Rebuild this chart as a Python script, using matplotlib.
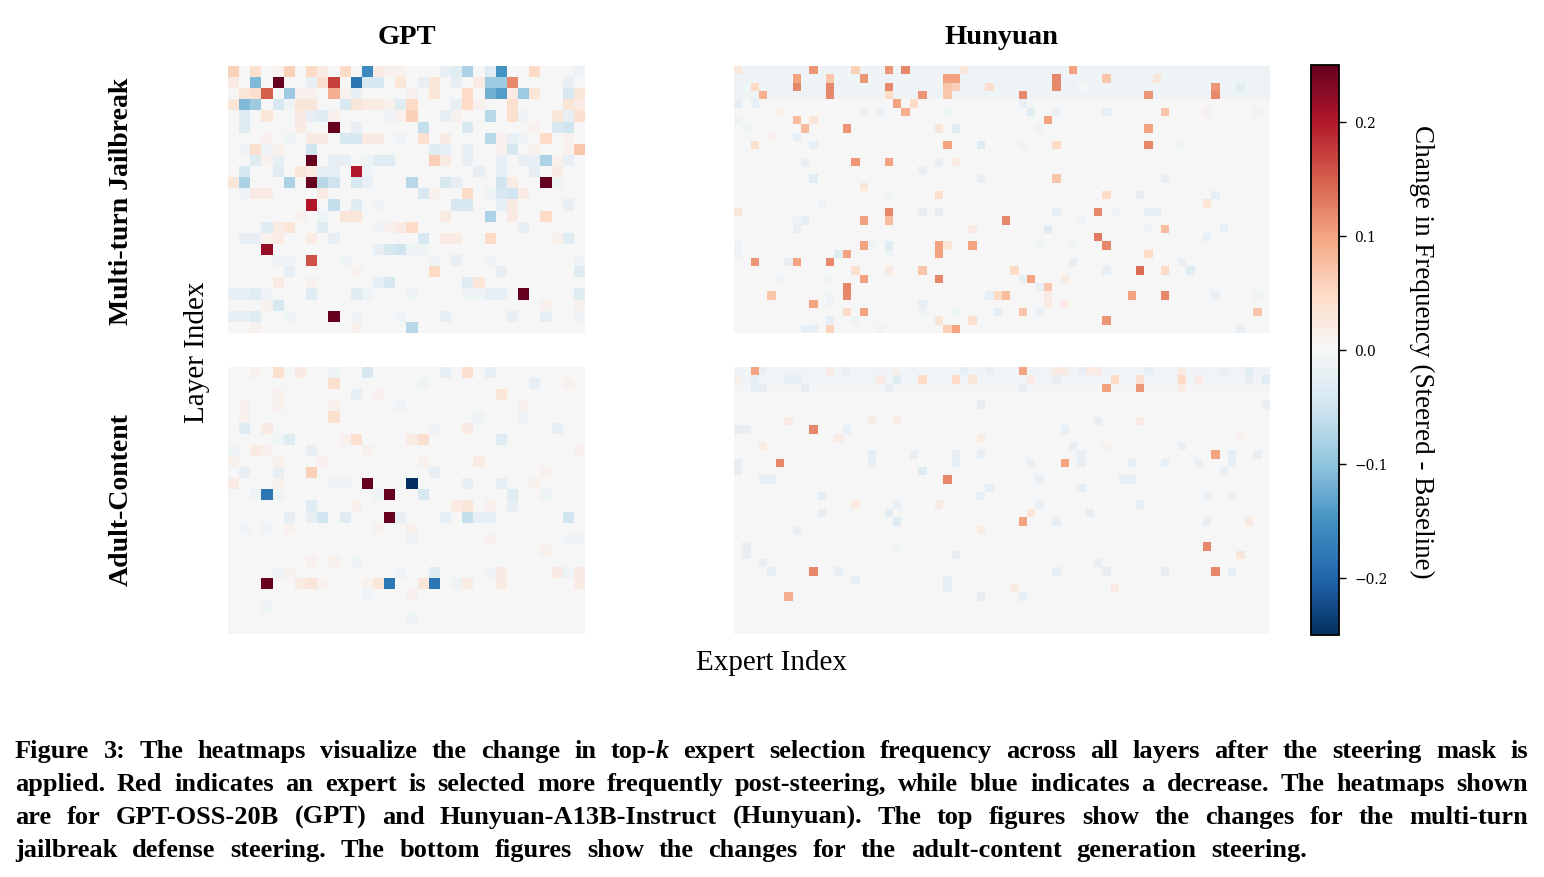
import numpy as np
import matplotlib.pyplot as plt

plt.rcParams['font.family'] = ['Liberation Serif', 'DejaVu Serif']

# grid sizes (layers x experts)
gpt_shape = (24, 32)
hy_shape = (32, 64)

# (layer, expert, change) for every cell that visibly differs from 0
gpt_jail = [
    (0, 0, 0.06), (0, 2, 0.04), (0, 4, 0.01), (0, 5, 0.06), (0, 7, 0.05), (0, 8, 0.02), (0, 10, 0.05),
    (0, 12, -0.16), (0, 13, 0.02), (0, 14, 0.01), (0, 15, 0.01), (0, 19, -0.02), (0, 20, -0.03),
    (0, 21, -0.08), (0, 23, -0.03), (0, 24, -0.15), (0, 27, 0.05), (0, 31, -0.01),
    (1, 0, 0.02), (1, 2, -0.11), (1, 4, 0.25), (1, 7, -0.02), (1, 8, 0.04), (1, 9, 0.17), (1, 11, -0.18),
    (1, 12, -0.04), (1, 13, -0.04), (1, 15, 0.03), (1, 17, -0.02), (1, 18, 0.03), (1, 20, -0.02),
    (1, 22, 0.02), (1, 23, -0.09), (1, 24, -0.09), (1, 25, 0.12), (1, 30, -0.02),
    (2, 1, 0.03), (2, 2, 0.04), (2, 3, 0.15), (2, 5, -0.09), (2, 6, 0.01), (2, 7, 0.01), (2, 9, 0.09),
    (2, 10, 0.01), (2, 11, -0.02), (2, 16, 0.01), (2, 18, 0.03), (2, 21, 0.05), (2, 23, -0.12),
    (2, 24, -0.14), (2, 25, 0.02), (2, 26, -0.09), (2, 27, 0.03), (2, 30, -0.04), (2, 31, 0.03),
    (3, 0, 0.03), (3, 1, -0.11), (3, 2, -0.09), (3, 4, -0.04), (3, 5, -0.01), (3, 6, 0.03), (3, 7, 0.03),
    (3, 10, -0.04), (3, 11, 0.03), (3, 12, 0.02), (3, 13, 0.02), (3, 14, 0.01), (3, 15, -0.03),
    (3, 16, 0.05), (3, 20, -0.02), (3, 21, 0.05), (3, 22, 0.01), (3, 25, 0.04), (3, 30, 0.03), (3, 31, 0.02),
    (4, 1, -0.03), (4, 3, 0.03), (4, 6, 0.02), (4, 7, -0.02), (4, 8, -0.03), (4, 9, 0.01), (4, 14, -0.01),
    (4, 15, 0.01), (4, 16, 0.06), (4, 19, -0.02), (4, 20, 0.01), (4, 23, -0.07), (4, 25, 0.04),
    (4, 26, -0.01), (4, 29, 0.03), (4, 30, -0.02), (4, 31, 0.04),
    (5, 1, -0.03), (5, 6, 0.02), (5, 9, 0.25), (5, 11, -0.02), (5, 17, -0.06), (5, 21, -0.04),
    (5, 27, 0.01), (5, 29, -0.04), (5, 30, -0.05),
    (6, 3, 0.01), (6, 5, -0.01), (6, 7, 0.02), (6, 8, 0.02), (6, 10, -0.04), (6, 11, -0.04), (6, 12, 0.02),
    (6, 13, 0.02), (6, 15, -0.01), (6, 17, 0.04), (6, 19, 0.02), (6, 23, -0.07), (6, 24, 0.01),
    (6, 25, -0.02), (6, 26, -0.01), (6, 28, 0.05), (6, 30, 0.01),
    (7, 1, -0.01), (7, 2, 0.04), (7, 3, -0.01), (7, 4, 0.01), (7, 7, -0.05), (7, 18, -0.03), (7, 19, -0.02),
    (7, 21, -0.02), (7, 24, 0.01), (7, 25, -0.04), (7, 27, 0.01), (7, 30, 0.01), (7, 31, 0.07),
    (8, 2, -0.03), (8, 3, 0.01), (8, 4, -0.02), (8, 7, 0.25), (8, 9, -0.02), (8, 10, -0.02), (8, 12, -0.01),
    (8, 13, -0.03), (8, 14, -0.03), (8, 18, 0.06), (8, 19, 0.02), (8, 21, -0.02), (8, 24, -0.02),
    (8, 26, -0.02), (8, 27, -0.02), (8, 28, -0.08), (8, 29, 0.01), (8, 30, -0.02),
    (9, 1, -0.04), (9, 4, -0.03), (9, 6, 0.03), (9, 7, 0.02), (9, 8, -0.02), (9, 9, -0.02), (9, 11, 0.2),
    (9, 12, -0.01), (9, 22, -0.02), (9, 24, -0.02), (9, 27, -0.02), (9, 29, 0.02),
    (10, 0, 0.03), (10, 1, -0.08), (10, 5, -0.08), (10, 7, 0.25), (10, 8, -0.07), (10, 9, -0.05),
    (10, 11, -0.04), (10, 12, -0.02), (10, 16, -0.07), (10, 19, -0.04), (10, 20, -0.02), (10, 24, -0.05),
    (10, 25, 0.02), (10, 28, 0.25), (10, 29, -0.01),
    (11, 1, -0.01), (11, 2, 0.02), (11, 3, 0.02), (11, 8, 0.02), (11, 17, -0.04), (11, 18, 0.01),
    (11, 21, 0.05), (11, 23, -0.01), (11, 24, -0.04), (11, 25, -0.05), (11, 26, 0.02),
    (12, 7, 0.2), (12, 9, -0.06), (12, 11, -0.03), (12, 13, -0.01), (12, 20, -0.04), (12, 21, -0.04),
    (12, 24, -0.02), (12, 25, 0.02), (12, 30, -0.02),
    (13, 6, 0.01), (13, 8, -0.01), (13, 10, 0.03), (13, 11, 0.03), (13, 19, 0.02), (13, 23, -0.08),
    (13, 25, 0.02), (13, 28, 0.05),
    (14, 3, -0.03), (14, 4, 0.02), (14, 5, 0.03), (14, 8, -0.03), (14, 13, -0.01), (14, 14, 0.01),
    (14, 15, 0.02), (14, 16, 0.05), (14, 26, -0.02),
    (15, 1, -0.02), (15, 2, -0.02), (15, 3, 0.01), (15, 4, 0.02), (15, 7, 0.02), (15, 9, -0.02),
    (15, 17, -0.04), (15, 19, 0.02), (15, 20, 0.02), (15, 23, 0.05), (15, 29, 0.01), (15, 30, -0.03),
    (16, 3, 0.22), (16, 13, -0.02), (16, 14, -0.04), (16, 15, -0.05), (16, 16, -0.01), (16, 17, -0.01),
    (17, 4, -0.01), (17, 5, -0.01), (17, 7, 0.16), (17, 10, -0.01), (17, 18, -0.01), (17, 20, -0.02),
    (17, 23, -0.01), (17, 31, -0.01),
    (18, 5, -0.02), (18, 11, 0.01), (18, 18, 0.05), (18, 24, -0.02), (18, 31, -0.03),
    (19, 4, 0.02), (19, 7, 0.01), (19, 13, -0.02), (19, 14, -0.04), (19, 21, -0.03), (19, 22, 0.03),
    (20, 0, -0.02), (20, 1, -0.02), (20, 2, -0.03), (20, 3, -0.01), (20, 7, -0.03), (20, 11, -0.03),
    (20, 12, -0.01), (20, 16, -0.01), (20, 21, -0.01), (20, 22, -0.01), (20, 23, -0.02), (20, 24, -0.02),
    (20, 26, 0.25), (20, 31, -0.03),
    (21, 3, 0.01), (21, 4, -0.04), (21, 28, 0.01), (21, 31, 0.01),
    (22, 0, -0.02), (22, 1, -0.02), (22, 2, -0.03), (22, 5, -0.01), (22, 9, 0.25), (22, 11, -0.01),
    (22, 15, -0.01), (22, 19, -0.02), (22, 25, -0.02), (22, 28, -0.02), (22, 31, -0.01),
    (23, 2, 0.01), (23, 11, 0.01), (23, 16, -0.07),
]

gpt_adult = [
    (0, 2, 0.01), (0, 4, 0.04), (0, 6, 0.02), (0, 9, -0.01), (0, 12, -0.04), (0, 19, -0.02), (0, 21, 0.04),
    (0, 23, -0.02),
    (1, 9, 0.04), (1, 17, -0.01), (1, 27, -0.02), (1, 30, 0.01),
    (2, 4, 0.01), (2, 11, -0.02), (2, 13, 0.01), (2, 24, 0.03),
    (3, 1, 0.01), (3, 4, 0.01), (3, 9, 0.01), (3, 15, -0.01), (3, 26, 0.01),
    (4, 1, 0.01), (4, 9, 0.04), (4, 22, -0.01), (4, 26, -0.01),
    (5, 1, -0.03), (5, 3, 0.02), (5, 18, -0.01), (5, 21, 0.02), (5, 29, -0.02),
    (6, 4, -0.01), (6, 5, -0.03), (6, 10, 0.01), (6, 11, 0.04), (6, 16, 0.02), (6, 17, 0.04), (6, 24, -0.03),
    (7, 0, -0.01), (7, 2, 0.02), (7, 3, 0.01), (7, 7, -0.02), (7, 12, 0.01), (7, 31, 0.01),
    (8, 0, 0.01), (8, 4, 0.01), (8, 8, 0.01), (8, 17, 0.01), (8, 22, 0.02),
    (9, 1, -0.02), (9, 4, -0.02), (9, 7, 0.06), (9, 18, -0.02), (9, 28, 0.01),
    (10, 0, 0.02), (10, 4, 0.01), (10, 9, -0.01), (10, 10, -0.01), (10, 12, 0.25), (10, 16, -0.25),
    (10, 21, -0.02), (10, 24, -0.02), (10, 27, 0.01),
    (11, 2, -0.01), (11, 3, -0.18), (11, 4, -0.01), (11, 13, -0.01), (11, 14, 0.25), (11, 17, -0.04),
    (11, 25, -0.03), (11, 28, -0.01),
    (12, 7, -0.03), (12, 11, 0.01), (12, 20, 0.02), (12, 21, 0.03), (12, 23, 0.01), (12, 25, -0.02),
    (13, 5, -0.02), (13, 7, -0.02), (13, 8, -0.05), (13, 10, -0.03), (13, 14, 0.25), (13, 15, -0.02),
    (13, 19, -0.02), (13, 21, -0.06), (13, 22, -0.02), (13, 23, -0.02), (13, 30, -0.05),
    (14, 1, -0.01), (14, 3, -0.01), (14, 5, 0.01), (14, 13, 0.01), (14, 16, 0.01),
    (15, 16, -0.01), (15, 23, 0.01), (15, 30, -0.01), (15, 31, -0.01),
    (16, 28, 0.01),
    (17, 7, 0.01), (17, 9, 0.01), (17, 11, -0.01),
    (18, 4, -0.01), (18, 5, 0.01), (18, 15, -0.01), (18, 18, -0.03), (18, 23, -0.01), (18, 24, 0.02),
    (18, 29, 0.02), (18, 30, -0.01), (18, 31, 0.02),
    (19, 3, 0.25), (19, 6, 0.02), (19, 7, 0.03), (19, 8, 0.01), (19, 12, 0.01), (19, 13, 0.03),
    (19, 14, -0.18), (19, 17, 0.03), (19, 18, -0.18), (19, 20, -0.01), (19, 21, 0.02), (19, 24, 0.02),
    (19, 31, 0.02),
    (20, 12, -0.01), (20, 16, 0.01),
    (21, 3, -0.01),
    (22, 16, -0.01),
]

hy_jail = [
    (0, 0, 0.03), (0, 9, 0.11), (0, 14, 0.06), (0, 18, 0.11), (0, 20, 0.12), (0, 27, 0.03), (0, 40, 0.1),
    (1, 7, 0.1), (1, 11, 0.07), (1, 15, 0.11), (1, 25, 0.1), (1, 26, 0.1), (1, 38, 0.12), (1, 44, 0.07),
    (1, 50, 0.03),
    (2, 2, 0.05), (2, 7, 0.12), (2, 11, 0.12), (2, 18, 0.12), (2, 25, 0.07), (2, 26, 0.06), (2, 30, 0.04),
    (2, 38, 0.12), (2, 41, 0.0), (2, 57, 0.11), (2, 60, -0.03),
    (3, 3, 0.09), (3, 11, 0.12), (3, 18, 0.05), (3, 22, 0.11), (3, 25, 0.07), (3, 34, 0.12), (3, 49, 0.11),
    (3, 57, 0.12),
    (4, 0, -0.02), (4, 2, -0.02), (4, 19, 0.1), (4, 21, 0.05), (4, 34, -0.02),
    (5, 5, 0.01), (5, 15, -0.02), (5, 17, -0.02), (5, 20, 0.09), (5, 25, -0.01), (5, 35, -0.03),
    (5, 38, -0.02), (5, 44, -0.02), (5, 51, 0.07), (5, 56, 0.01), (5, 62, -0.01),
    (6, 7, 0.08), (6, 9, 0.03), (6, 0, -0.01), (6, 37, 0.1),
    (7, 1, -0.01), (7, 8, 0.08), (7, 13, 0.11), (7, 24, 0.03), (7, 26, -0.03), (7, 36, -0.01), (7, 49, 0.1),
    (8, 7, -0.02), (8, 4, 0.01),
    (9, 2, 0.04), (9, 9, -0.02), (9, 25, 0.1), (9, 29, -0.03), (9, 34, -0.01), (9, 38, 0.05), (9, 49, 0.12),
    (9, 53, -0.01),
    (11, 8, -0.02), (11, 14, 0.11), (11, 18, 0.1), (11, 24, -0.02), (11, 26, 0.02),
    (12, 22, -0.02),
    (13, 9, -0.03), (13, 29, -0.02), (13, 38, 0.07), (13, 51, -0.02),
    (14, 15, 0.03),
    (15, 18, -0.01), (15, 24, 0.04), (15, 44, 0.05), (15, 48, -0.02), (15, 57, -0.02),
    (16, 56, 0.03), (16, 10, -0.01),
    (17, 0, 0.03), (17, 18, 0.12), (17, 22, -0.02), (17, 24, -0.02), (17, 38, -0.02), (17, 43, 0.12),
    (17, 45, -0.01), (17, 49, -0.02), (17, 50, -0.02),
    (18, 7, -0.01), (18, 8, -0.02), (18, 15, 0.1), (18, 18, 0.08), (18, 32, 0.12), (18, 41, -0.01),
    (19, 7, -0.02), (19, 28, 0.02), (19, 37, -0.03), (19, 51, 0.08), (19, 58, -0.02), (19, 49, -0.01),
    (20, 43, 0.13), (20, 56, -0.02),
    (21, 0, -0.01), (21, 15, 0.1), (21, 16, -0.01), (21, 18, -0.03), (21, 24, 0.1), (21, 25, 0.03),
    (21, 28, 0.1), (21, 44, 0.12), (21, 36, -0.01), (21, 40, -0.01),
    (22, 0, -0.01), (22, 12, -0.03), (22, 13, 0.1), (22, 18, -0.01), (22, 24, 0.1), (22, 49, 0.05),
    (23, 2, 0.11), (23, 6, -0.02), (23, 7, 0.1), (23, 11, 0.12), (23, 40, -0.02), (23, 53, -0.02),
    (24, 14, 0.04), (24, 18, 0.02), (24, 22, 0.07), (24, 33, 0.05), (24, 44, -0.02), (24, 48, 0.14),
    (24, 51, 0.05), (24, 54, -0.03),
    (25, 5, -0.01), (25, 11, -0.01), (25, 15, 0.1), (25, 24, 0.12), (25, 34, -0.02), (25, 35, 0.1),
    (25, 39, 0.02),
    (26, 13, 0.12), (26, 36, -0.02), (26, 37, 0.07),
    (27, 4, 0.07), (27, 11, -0.01), (27, 13, 0.12), (27, 30, -0.02), (27, 31, 0.05), (27, 32, 0.08),
    (27, 37, 0.02), (27, 47, 0.1), (27, 51, 0.12), (27, 57, -0.02), (27, 62, -0.01),
    (28, 9, 0.1), (28, 11, -0.01), (28, 22, -0.02), (28, 37, 0.02), (28, 39, 0.02),
    (29, 13, 0.05), (29, 15, 0.1), (29, 22, -0.01), (29, 26, -0.01), (29, 31, -0.02), (29, 34, 0.07),
    (29, 36, -0.02), (29, 62, 0.07),
    (30, 11, -0.02), (30, 14, -0.01), (30, 24, 0.03), (30, 28, 0.04), (30, 44, 0.11),
    (31, 8, -0.02), (31, 9, -0.02), (31, 11, 0.06), (31, 17, -0.01), (31, 25, 0.06), (31, 26, 0.1),
    (31, 60, -0.02),
]

hy_adult = [
    (0, 2, 0.1), (0, 3, -0.02), (0, 11, 0.02), (0, 13, -0.02), (0, 19, 0.01), (0, 27, -0.02), (0, 30, -0.02),
    (0, 34, 0.1), (0, 38, 0.02), (0, 39, 0.02), (0, 41, -0.02), (0, 42, 0.02), (0, 43, 0.02), (0, 49, -0.02),
    (0, 53, 0.02), (0, 58, -0.02), (0, 61, -0.03),
    (1, 0, 0.01), (1, 2, -0.02), (1, 6, -0.02), (1, 7, -0.02), (1, 19, -0.03), (1, 17, 0.02), (1, 22, 0.05),
    (1, 26, 0.05), (1, 28, 0.03), (1, 35, 0.02), (1, 38, -0.02), (1, 45, 0.05), (1, 48, 0.04), (1, 53, 0.05),
    (1, 55, 0.02), (1, 61, -0.02), (1, 63, -0.03),
    (2, 2, -0.02), (2, 3, -0.02), (2, 8, -0.02), (2, 18, -0.02), (2, 34, -0.02), (2, 44, 0.1), (2, 48, 0.11),
    (2, 53, 0.02),
    (4, 29, -0.02), (4, 63, -0.02),
    (6, 6, 0.02), (6, 16, 0.02), (6, 19, 0.02), (6, 43, -0.02), (6, 48, 0.02),
    (7, 0, -0.02), (7, 1, -0.02), (7, 9, 0.12), (7, 13, -0.02), (7, 39, -0.02),
    (8, 12, 0.02), (8, 29, 0.02), (8, 60, 0.01),
    (9, 3, 0.02), (9, 40, -0.02), (9, 53, -0.02), (9, 44, 0.01),
    (10, 16, -0.02), (10, 21, -0.02), (10, 26, -0.02), (10, 29, -0.02), (10, 41, -0.02), (10, 57, 0.1),
    (10, 59, -0.02), (10, 62, -0.02),
    (11, 0, -0.02), (11, 5, 0.12), (11, 16, -0.02), (11, 26, -0.02), (11, 35, -0.02), (11, 39, 0.1),
    (11, 41, -0.02), (11, 47, -0.02), (11, 51, -0.02), (11, 55, -0.02), (11, 59, -0.02),
    (12, 0, -0.02), (12, 22, -0.03), (12, 58, -0.02),
    (13, 3, -0.02), (13, 4, -0.02), (13, 25, 0.12), (13, 36, -0.02), (13, 46, -0.02), (13, 47, -0.02),
    (14, 30, -0.02), (14, 41, -0.02),
    (15, 10, -0.02), (15, 29, -0.02), (15, 56, -0.02), (15, 59, -0.02),
    (16, 19, -0.02), (16, 36, -0.02), (16, 14, 0.02), (16, 24, 0.02), (16, 48, -0.02),
    (17, 10, -0.02), (17, 18, -0.03), (17, 35, 0.03), (17, 42, -0.02),
    (18, 19, -0.03), (18, 34, 0.1), (18, 38, -0.02), (18, 56, -0.02), (18, 61, 0.02),
    (19, 7, -0.02), (19, 29, 0.02),
    (21, 1, -0.02), (21, 56, 0.12), (21, 19, -0.01),
    (22, 1, -0.02), (22, 26, -0.02), (22, 60, 0.03),
    (23, 3, -0.02), (23, 43, -0.02),
    (24, 4, -0.02), (24, 9, 0.12), (24, 12, -0.02), (24, 38, -0.02), (24, 44, -0.02), (24, 51, -0.02),
    (24, 57, 0.12), (24, 59, -0.02),
    (25, 14, -0.02), (25, 25, -0.02),
    (26, 25, -0.02), (26, 33, 0.02), (26, 45, 0.02),
    (27, 6, 0.09), (27, 29, -0.02), (27, 34, -0.02),
]

# faint uniform shift seen in the first rows of the Hunyuan panels
hy_jail_row_shift = [-0.01, -0.01, -0.01, -0.01]
hy_adult_row_shift = [-0.006, -0.006, -0.005]

col_titles = ['GPT', 'Hunyuan']
row_titles = ['Multi-turn Jailbreak', 'Adult-Content']
cbar_ticks = [-0.2, -0.1, 0.0, 0.1, 0.2]

caption = [
    'Figure 3: The heatmaps visualize the change in top-k expert selection frequency across all layers after the steering mask is',
    'applied. Red indicates an expert is selected more frequently post-steering, while blue indicates a decrease. The heatmaps shown',
    'are for GPT-OSS-20B (GPT) and Hunyuan-A13B-Instruct (Hunyuan). The top figures show the changes for the multi-turn',
    'jailbreak defense steering. The bottom figures show the changes for the adult-content generation steering.',
]
caption_right = [1528, 1528, 1528, 1307]


def build(shape, cells, row_shift=()):
    m = np.zeros(shape)
    for r, s in enumerate(row_shift):
        m[r, :] = s
    for r, c, v in cells:
        m[r, c] = v
    return m


W, H = 1544, 878


def rect(x0, y0, x1, y1):
    return [x0 / W, 1 - y1 / H, (x1 - x0) / W, (y1 - y0) / H]


fig = plt.figure(figsize=(W / 100, H / 100), dpi=100)

panels = [
    (build(gpt_shape, gpt_jail), rect(228, 67, 585, 334)),
    (build(gpt_shape, gpt_adult), rect(228, 368, 585, 635)),
    (build(hy_shape, hy_jail, hy_jail_row_shift), rect(734, 67, 1270, 334)),
    (build(hy_shape, hy_adult, hy_adult_row_shift), rect(734, 368, 1270, 635)),
]
for data, pos in panels:
    ax = fig.add_axes(pos)
    im = ax.imshow(data, cmap='RdBu_r', vmin=-0.25, vmax=0.25, aspect='auto', interpolation='nearest')
    ax.axis('off')

cax = fig.add_axes(rect(1311, 66, 1339, 636))
cb = fig.colorbar(im, cax=cax, ticks=cbar_ticks)
cb.outline.set_linewidth(1.3)
cb.ax.set_yticklabels([('%.1f' % t).replace('-', '\u2212') for t in cbar_ticks],
                      fontsize=10, family='DejaVu Serif')
cb.ax.tick_params(length=5, width=1, pad=6)
fig.text(1422 / W, 1 - 352 / H, 'Change in Frequency (Steered - Baseline)', rotation=270,
         ha='center', va='center', fontsize=19.5)

fig.text(407 / W, 1 - 37 / H, col_titles[0], ha='center', va='center', fontsize=20.5, fontweight='bold')
fig.text(1001 / W, 1 - 37 / H, col_titles[1], ha='center', va='center', fontsize=20.5, fontweight='bold')
fig.text(121 / W, 1 - 201 / H, row_titles[0], rotation=90, ha='center', va='center', fontsize=20, fontweight='bold')
fig.text(121 / W, 1 - 500 / H, row_titles[1], rotation=90, ha='center', va='center', fontsize=20, fontweight='bold')
fig.text(197 / W, 1 - 352 / H, 'Layer Index', rotation=90, ha='center', va='center', fontsize=21)
fig.text(772 / W, 1 - 663 / H, 'Expert Index', ha='center', va='center', fontsize=21)

# caption, justified like the paper
renderer = fig.canvas.get_renderer()
x_left = 15
for i, line in enumerate(caption):
    y = 1 - (758 + 33 * i) / H
    pieces = []
    for w in line.split(' '):
        if w == 'top-k':
            parts = [fig.text(0, y, 'top-', fontsize=19, fontweight='bold', va='baseline'),
                     fig.text(0, y, 'k', fontsize=19, fontweight='bold', fontstyle='italic', va='baseline')]
        else:
            parts = [fig.text(0, y, w, fontsize=19, fontweight='bold', va='baseline')]
        widths = [p.get_window_extent(renderer).width for p in parts]
        pieces.append((parts, widths))
    total = sum(sum(ws) for _, ws in pieces)
    gap = (caption_right[i] - x_left - total) / (len(pieces) - 1)
    x = x_left
    for parts, widths in pieces:
        for p, w in zip(parts, widths):
            p.set_x(x / W)
            x += w
        x += gap

fig.savefig('out.png', dpi=100)
